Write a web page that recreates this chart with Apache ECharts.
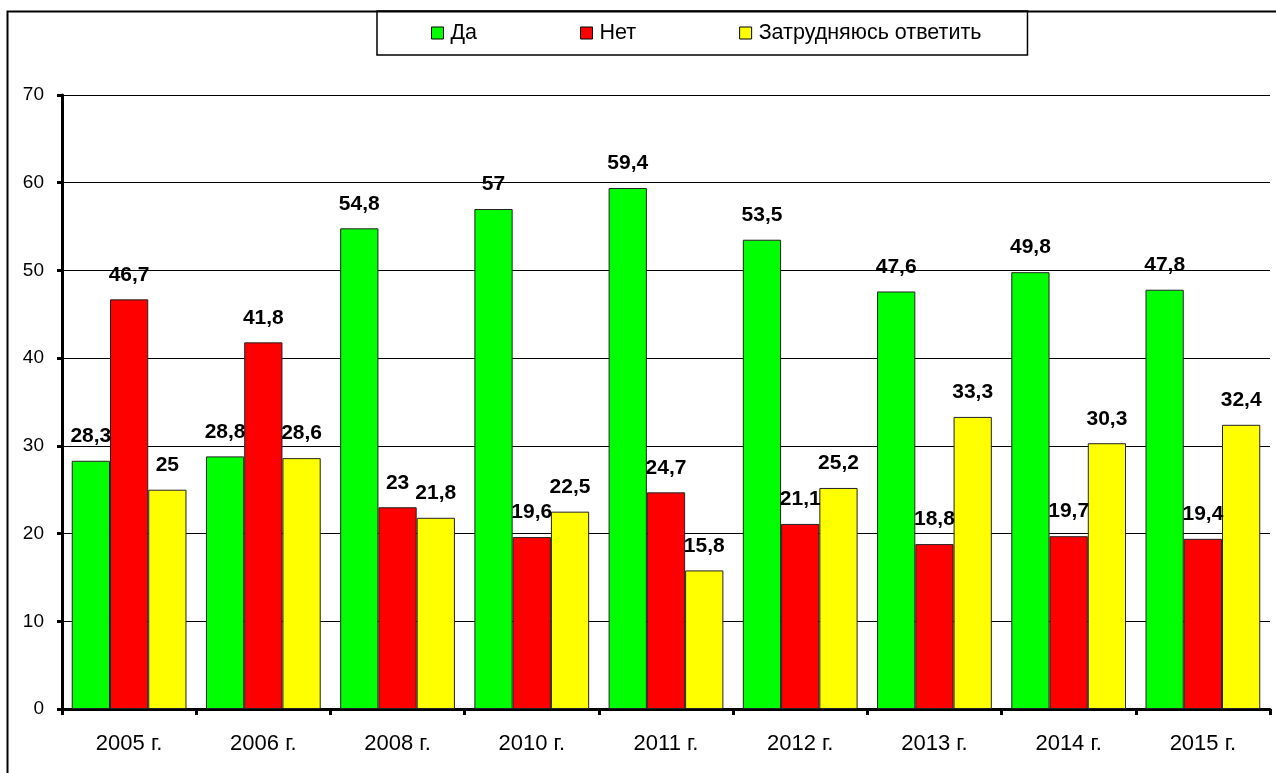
<!DOCTYPE html>
<html><head><meta charset="utf-8">
<script src="https://cdn.jsdelivr.net/npm/echarts@6/dist/echarts.min.js"></script>
<style>html,body{margin:0;padding:0;background:#fff}#c{width:1276px;height:773px}</style>
</head><body><div id="c"></div>
<script>
const categories = ['2005 г.','2006 г.','2008 г.','2010 г.','2011 г.','2012 г.','2013 г.','2014 г.','2015 г.'];
const seriesNames = ['Да','Нет','Затрудняюсь ответить'];
const yesValues = [28.3, 28.8, 54.8, 57, 59.4, 53.5, 47.6, 49.8, 47.8];
const noValues = [46.7, 41.8, 23, 19.6, 24.7, 21.1, 18.8, 19.7, 19.4];
const hardValues = [25, 28.6, 21.8, 22.5, 15.8, 25.2, 33.3, 30.3, 32.4];
const colors = ['#00FF00','#FF0000','#FFFF00'];
const FONT = '"Liberation Sans", Arial, sans-serif';

const chart = echarts.init(document.getElementById('c'));
function mk(name, data, color){
  return {
    name, type:'bar', data,
    barGap: '0%', barCategoryGap: '14.5%',
    itemStyle:{color, borderColor:'#222', borderWidth:1},
    label:{show:true, position:'top', distance:14, color:'#000', fontFamily:FONT, fontWeight:'bold', fontSize:21,
      formatter:p=>String(p.value).replace('.', ',')},
    emphasis:{disabled:true}
  };
}
chart.setOption({
  animation:false,
  backgroundColor:'#fff',
  graphic:[{type:'polyline', shape:{points:[[7.5,773],[7.5,11.5],[1276,11.5]]}, style:{stroke:'#000', lineWidth:2, fill:null}, z:-1}],
  legend:{
    left:377, top:11, itemWidth:12, itemHeight:12, itemGap:103,
    padding:[11,46,11,54],
    borderColor:'#000', borderWidth:1.5,
    icon:'rect',
    textStyle:{fontFamily:FONT, fontSize:21.5, color:'#000', padding:[0,0,0,2]},
    itemStyle:{borderColor:'#000', borderWidth:1},
    data:seriesNames
  },
  grid:{left:62, right:6, top:95, bottom:64},
  xAxis:{
    type:'category', data:categories,
    axisLine:{lineStyle:{color:'#000', width:3}},
    axisTick:{show:true, length:6, lineStyle:{color:'#000', width:3}},
    axisLabel:{color:'#000', fontFamily:FONT, fontSize:22, margin:24}
  },
  yAxis:{
    type:'value', min:0, max:70, interval:10,
    axisLine:{show:true, lineStyle:{color:'#000', width:3}},
    axisTick:{show:true, length:5, lineStyle:{color:'#000', width:3}},
    axisLabel:{color:'#000', fontFamily:FONT, fontSize:19, margin:18},
    splitLine:{show:true, lineStyle:{color:'#000', width:1}}
  },
  series:[mk(seriesNames[0], yesValues, colors[0]), mk(seriesNames[1], noValues, colors[1]), mk(seriesNames[2], hardValues, colors[2])]
});
</script></body></html>
